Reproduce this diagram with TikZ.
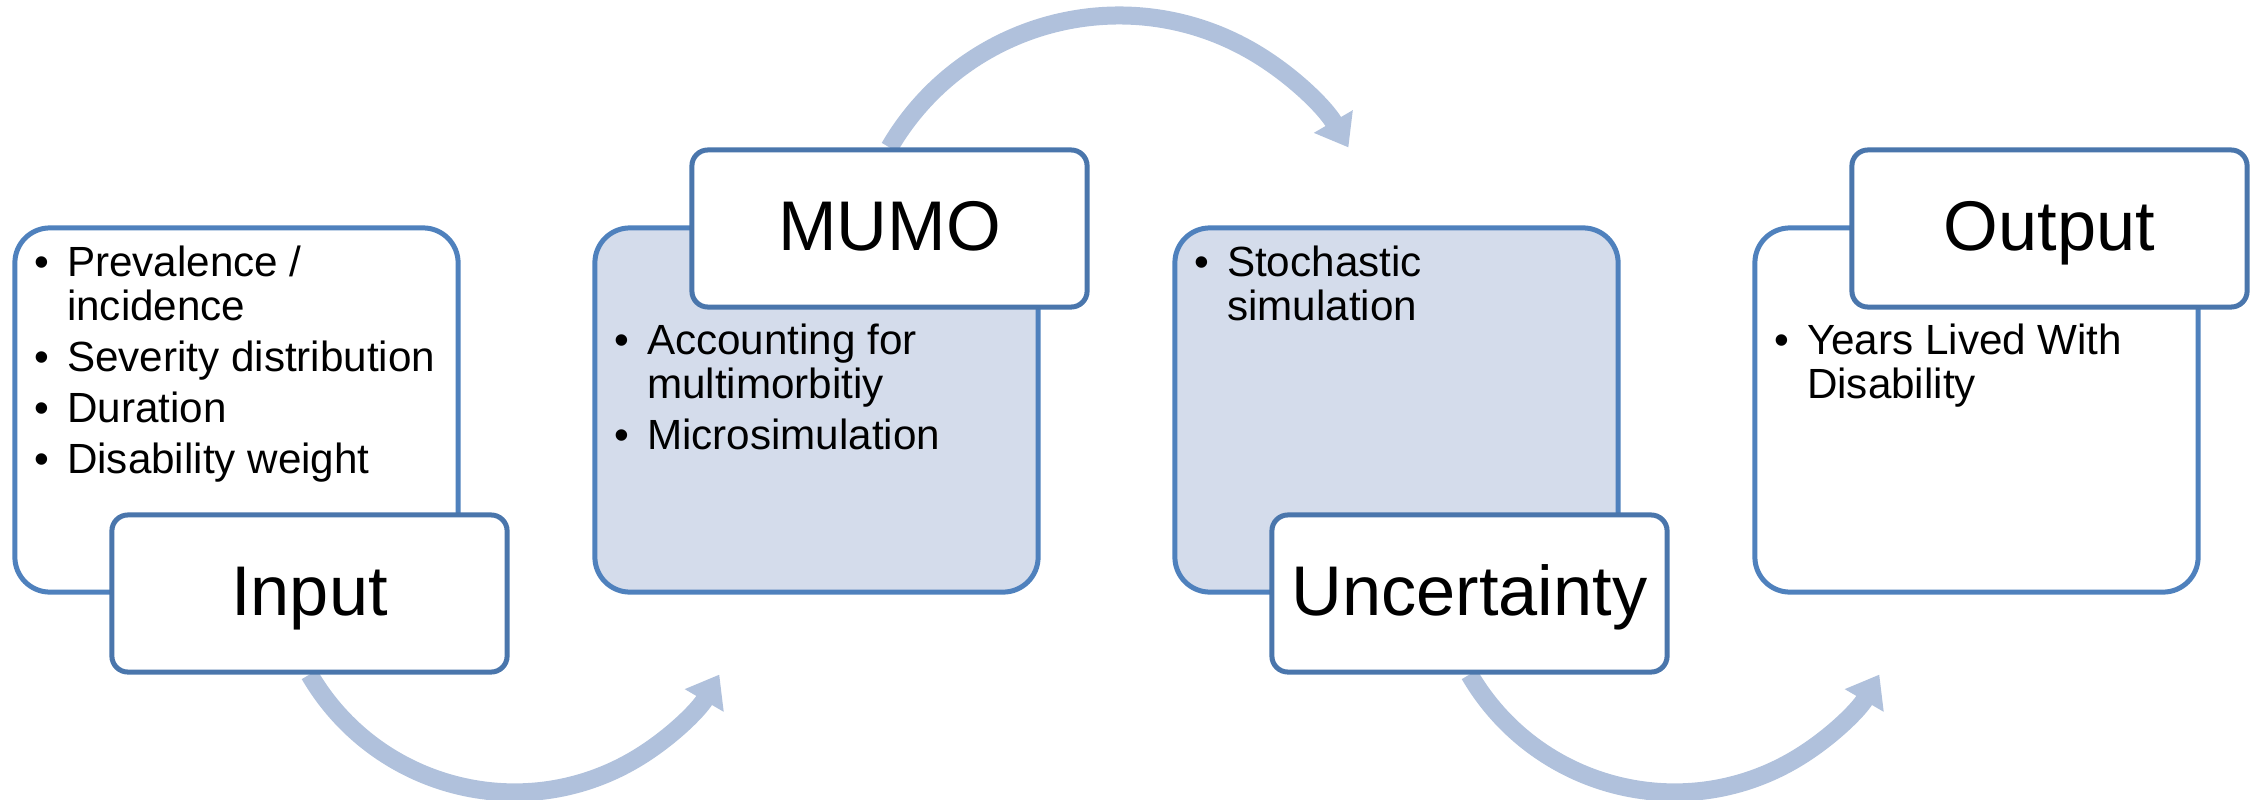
\documentclass[tikz,border=0pt]{standalone}
\usepackage{fontspec}
\setmainfont{Liberation Sans}
\usetikzlibrary{arrows.meta}
\pgfdeclarelayer{back}
\pgfsetlayers{back,main}
\definecolor{boxline}{HTML}{4F81BD}
\definecolor{lblline}{HTML}{4A76AC}
\definecolor{boxfill}{HTML}{D4DCEB}
\definecolor{arcfill}{HTML}{B0C1DC}
\newcommand{\bulletlist}[1]{\fontsize{12}{12.5}\selectfont\begin{tabular}[t]{@{}p{0.33cm}@{}l@{}}#1\end{tabular}}
\begin{document}
\begin{tikzpicture}[x=0.01cm,y=0.01cm,
    bigbox/.style={draw=boxline,line width=0.05cm,rounded corners=0.35cm,minimum width=4.43cm,minimum height=3.64cm,inner sep=0},
    lblbox/.style={draw=lblline,fill=white,line width=0.05cm,rounded corners=0.16cm,minimum width=3.95cm,minimum height=1.57cm,font=\fontsize{20}{24}\selectfont,text height=0.43cm,text depth=0pt,inner sep=0},
    itemtext/.style={anchor=base west,inner sep=0},
    flowarrow/.style={draw=arcfill,line width=0.18cm,-{Triangle[length=0.3cm,width=0.43cm]}}]
    \useasboundingbox (0,0) rectangle (2254,799);
    \node[bigbox,fill=white] (inbox) at (236.5,389) {};
    \node[bigbox,fill=boxfill] (mubox) at (816.5,389) {};
    \node[bigbox,fill=boxfill] (unbox) at (1396.5,389) {};
    \node[bigbox,fill=white] (outbox) at (1976.5,389) {};
    \node[lblbox] (inlbl) at (309.5,205.5) {Input};
    \node[lblbox] (mulbl) at (889.5,570.5) {MUMO};
    \node[lblbox] (unlbl) at (1469.5,205.5) {Uncertainty};
    \node[lblbox] (outlbl) at (2049.5,570.5) {Output};
    \node[itemtext] (intxt) at ([xshift=0.21cm,yshift=-0.51cm]inbox.north west)
        {\bulletlist{\textbullet & Prevalence /\\ & incidence\\[2pt] \textbullet & Severity distribution\\[2pt] \textbullet & Duration\\[2pt] \textbullet & Disability weight}};
    \node[itemtext] (mutxt) at ([xshift=0.21cm,yshift=-1.29cm]mubox.north west)
        {\bulletlist{\textbullet & Accounting for\\ & multimorbitiy\\[2pt] \textbullet & Microsimulation}};
    \node[itemtext] (untxt) at ([xshift=0.21cm,yshift=-0.51cm]unbox.north west)
        {\bulletlist{\textbullet & Stochastic\\ & simulation}};
    \node[itemtext] (outtxt) at ([xshift=0.21cm,yshift=-1.29cm]outbox.north west)
        {\bulletlist{\textbullet & Years Lived With\\ & Disability}};
    \begin{pgfonlayer}{back}
    \draw[flowarrow] (inlbl.south) arc[start angle=210.2,end angle=329.8,radius=237.1];
    \draw[flowarrow] (mulbl.north) arc[start angle=149.8,end angle=30.2,radius=265.5];
    \draw[flowarrow] (unlbl.south) arc[start angle=210.2,end angle=329.8,radius=237.1];
    \end{pgfonlayer}
\end{tikzpicture}
\end{document}
